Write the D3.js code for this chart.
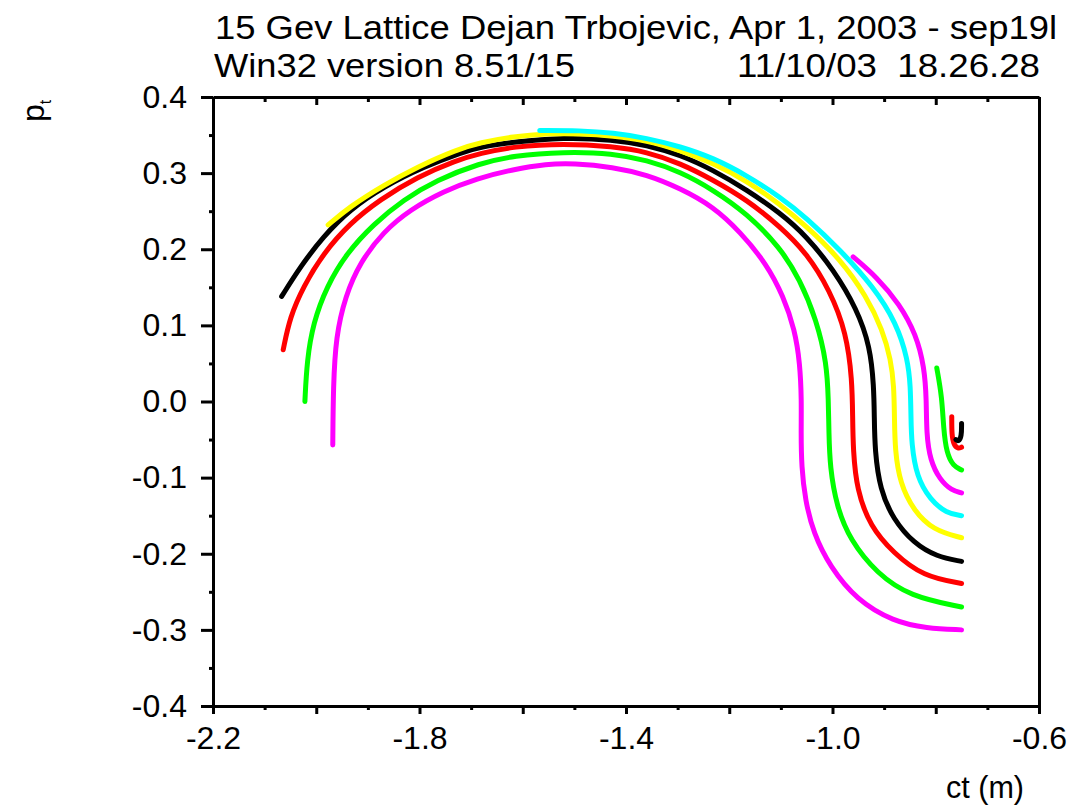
<!DOCTYPE html>
<html>
<head>
<meta charset="utf-8">
<script src="https://cdn.jsdelivr.net/npm/d3@7"></script>
<style>
  html, body { margin: 0; padding: 0; background: #fff; }
  svg { display: block; font-family: "Liberation Sans", Arial, sans-serif; }
</style>
</head>
<body>
<svg id="chart" width="1076" height="809"></svg>
<script>
// ---------------- data (ct in m, pt) ----------------
const titleLine1 = "15 Gev Lattice Dejan Trbojevic, Apr 1, 2003 - sep19l";
const titleLine2Left = "Win32 version 8.51/15";
const titleLine2Right = "11/10/03  18.26.28";
const xLabel = "ct (m)";
const yLabelMain = "p";
const yLabelSub = "t";

const xTickValues = d3.range(-22, -5).map(i => i / 10);       // every 0.1
const xTickLabels = ["-2.2", "-1.8", "-1.4", "-1.0", "-0.6"];
const yTickValues = d3.range(-8, 9).map(i => i / 20);         // every 0.05
const yTickLabels = ["-0.4", "-0.3", "-0.2", "-0.1", "0.0", "0.1", "0.2", "0.3", "0.4"];

const colors = ["#ff00ff", "#00ff00", "#ff0000", "#000000", "#ffff00", "#00ffff",
                "#ff00ff", "#00ff00", "#ff0000", "#000000"];

const trackM1 = [[-0.750,-0.300],[-0.818,-0.298],[-0.882,-0.289],[-0.953,-0.261],[-1.005,-0.217],[-1.037,-0.173],[-1.053,-0.129],[-1.060,-0.086],[-1.061,-0.040],[-1.060,0.002],[-1.063,0.050],[-1.073,0.094],[-1.095,0.138],[-1.128,0.181],[-1.179,0.223],[-1.231,0.256],[-1.295,0.280],[-1.360,0.298],[-1.425,0.308],[-1.502,0.313],[-1.554,0.312],[-1.618,0.305],[-1.689,0.293],[-1.754,0.276],[-1.818,0.252],[-1.870,0.223],[-1.915,0.183],[-1.944,0.138],[-1.962,0.085],[-1.967,0.020],[-1.968,-0.057]];
const trackG1 = [[-0.750,-0.270],[-0.850,-0.256],[-0.914,-0.226],[-0.966,-0.182],[-0.992,-0.138],[-1.005,-0.086],[-1.007,-0.040],[-1.008,0.002],[-1.011,0.050],[-1.031,0.107],[-1.063,0.160],[-1.102,0.203],[-1.166,0.247],[-1.231,0.278],[-1.295,0.302],[-1.360,0.317],[-1.425,0.326],[-1.521,0.328],[-1.618,0.323],[-1.683,0.313],[-1.767,0.291],[-1.831,0.265],[-1.889,0.233],[-1.941,0.195],[-1.980,0.151],[-2.006,0.103],[-2.018,0.054],[-2.022,0.000]];
const trackR1 = [[-0.750,-0.239],[-0.824,-0.230],[-0.882,-0.199],[-0.927,-0.164],[-0.953,-0.116],[-0.960,-0.064],[-0.961,-0.020],[-0.962,0.028],[-0.973,0.090],[-1.005,0.146],[-1.050,0.195],[-1.102,0.230],[-1.166,0.265],[-1.231,0.291],[-1.295,0.313],[-1.360,0.328],[-1.425,0.335],[-1.521,0.339],[-1.618,0.335],[-1.683,0.326],[-1.728,0.317],[-1.805,0.295],[-1.877,0.265],[-1.935,0.234],[-1.986,0.195],[-2.025,0.151],[-2.051,0.111],[-2.064,0.068]];
const trackB1 = [[-0.750,-0.210],[-0.798,-0.204],[-0.843,-0.186],[-0.882,-0.155],[-0.908,-0.116],[-0.918,-0.064],[-0.919,-0.020],[-0.920,0.020],[-0.927,0.072],[-0.953,0.122],[-0.998,0.173],[-1.050,0.217],[-1.102,0.248],[-1.166,0.278],[-1.231,0.304],[-1.295,0.324],[-1.360,0.337],[-1.425,0.344],[-1.521,0.347],[-1.618,0.341],[-1.683,0.334],[-1.715,0.328],[-1.793,0.308],[-1.870,0.282],[-1.935,0.252],[-1.986,0.217],[-2.031,0.177],[-2.067,0.138]];
const trackY1 = [[-0.750,-0.179],[-0.805,-0.169],[-0.843,-0.143],[-0.869,-0.108],[-0.879,-0.064],[-0.880,-0.020],[-0.881,0.020],[-0.887,0.055],[-0.903,0.094],[-0.934,0.138],[-0.985,0.187],[-1.050,0.230],[-1.102,0.259],[-1.166,0.290],[-1.231,0.313],[-1.295,0.330],[-1.360,0.343],[-1.425,0.349],[-1.489,0.352],[-1.554,0.352],[-1.618,0.348],[-1.683,0.340],[-1.728,0.331],[-1.805,0.308],[-1.870,0.284],[-1.935,0.256],[-1.977,0.232]];
const trackC1 = [[-0.750,-0.150],[-0.779,-0.147],[-0.811,-0.129],[-0.837,-0.099],[-0.847,-0.055],[-0.848,-0.020],[-0.849,0.020],[-0.854,0.055],[-0.876,0.103],[-0.921,0.151],[-0.985,0.199],[-1.050,0.241],[-1.102,0.269],[-1.166,0.297],[-1.231,0.320],[-1.295,0.335],[-1.360,0.346],[-1.425,0.353],[-1.489,0.356],[-1.567,0.356]];
const trackM2 = [[-0.750,-0.120],[-0.769,-0.117],[-0.792,-0.103],[-0.811,-0.077],[-0.818,-0.042],[-0.818,0.002],[-0.822,0.045],[-0.838,0.088],[-0.870,0.128],[-0.915,0.164],[-0.960,0.190]];
const trackG2 = [[-0.750,-0.090],[-0.766,-0.085],[-0.779,-0.068],[-0.785,-0.035],[-0.788,0.006],[-0.798,0.044]];
const trackR2 = [[-0.750,-0.060],[-0.757,-0.062],[-0.765,-0.057],[-0.769,-0.044],[-0.769,-0.020]];
const trackB2 = [[-0.750,-0.029],[-0.750,-0.046],[-0.756,-0.053],[-0.761,-0.050]];

const tracks = [trackM1, trackG1, trackR1, trackB1, trackY1, trackC1, trackM2, trackG2, trackR2, trackB2];

// ---------------- layout ----------------
const svg = d3.select("#chart");
const x = d3.scaleLinear().domain([-2.2, -0.6]).range([213, 1039]);
const y = d3.scaleLinear().domain([-0.4, 0.4]).range([706, 97]);
const FS = 32;
const near = (a, b) => Math.abs(a - b) < 1e-6;
const fmt = v => (Math.round(v * 10) / 10).toFixed(1).replace("-0.0", "0.0");

// curves
const line = d3.line().x(d => x(d[0])).y(d => y(d[1])).curve(d3.curveBasis);
svg.append("g").selectAll("path").data(tracks).join("path")
  .attr("d", line)
  .attr("fill", "none")
  .attr("stroke", (d, i) => colors[i])
  .attr("stroke-width", 5)
  .attr("stroke-linecap", "round")
  .attr("stroke-linejoin", "round");

// bottom axis
const xMajor = v => near(Math.abs(Math.round(v * 10)) % 2, 0);
const gx = svg.append("g").attr("transform", `translate(0,${y(-0.4)})`)
  .call(d3.axisBottom(x).tickValues(xTickValues).tickSize(8).tickSizeOuter(0).tickPadding(12)
    .tickFormat(v => xTickLabels.includes(fmt(v)) ? fmt(v) : ""));
gx.selectAll(".tick line").attr("y2", v => xMajor(v) ? 8 : 4);

// top axis (ticks inside)
const gt = svg.append("g").attr("transform", `translate(0,${y(0.4)})`)
  .call(d3.axisBottom(x).tickValues(xTickValues).tickSize(8).tickSizeOuter(0).tickFormat(""));
gt.selectAll(".tick line").attr("y2", v => xMajor(v) ? 8 : 5);

// left axis
const yMajor = v => near(Math.abs(Math.round(v * 20)) % 2, 0);
const gy = svg.append("g").attr("transform", `translate(${x(-2.2)},0)`)
  .call(d3.axisLeft(y).tickValues(yTickValues).tickSize(12).tickSizeOuter(0).tickPadding(14)
    .tickFormat(v => yTickLabels.includes(fmt(v)) && yMajor(v) ? fmt(v) : ""));
gy.selectAll(".tick line").attr("x2", v => yMajor(v) ? -12 : -4);

// right axis (plain)
svg.append("g").attr("transform", `translate(${x(-0.6)},0)`)
  .call(d3.axisRight(y).tickValues([]).tickSizeOuter(0));

svg.selectAll(".domain").attr("stroke", "#000").attr("stroke-width", 3);
svg.selectAll(".tick line").attr("stroke", "#000").attr("stroke-width", 3);
svg.selectAll(".tick text").attr("font-size", FS).attr("fill", "#000")
  .attr("font-family", "'Liberation Sans', Arial, sans-serif");

// titles
svg.append("text").attr("x", 215).attr("y", 39).attr("font-size", 34)
  .attr("textLength", 842).attr("lengthAdjust", "spacingAndGlyphs").text(titleLine1);
svg.append("text").attr("x", 214).attr("y", 77).attr("font-size", 34)
  .attr("textLength", 361).attr("lengthAdjust", "spacingAndGlyphs").text(titleLine2Left);
svg.append("text").attr("x", 1040).attr("y", 77).attr("font-size", 34).attr("text-anchor", "end")
  .attr("textLength", 303).attr("lengthAdjust", "spacingAndGlyphs")
  .style("white-space", "pre").text(titleLine2Right);

// axis labels
svg.append("text").attr("x", 1024).attr("y", 798).attr("font-size", FS).attr("text-anchor", "end")
  .attr("textLength", 78).attr("lengthAdjust", "spacingAndGlyphs").text(xLabel);
const yl = svg.append("text").attr("transform", "translate(44,122) rotate(-90)").attr("font-size", 32);
yl.append("tspan").text(yLabelMain);
yl.append("tspan").attr("font-size", 16).attr("dy", 7).text(yLabelSub);
</script>
</body>
</html>
